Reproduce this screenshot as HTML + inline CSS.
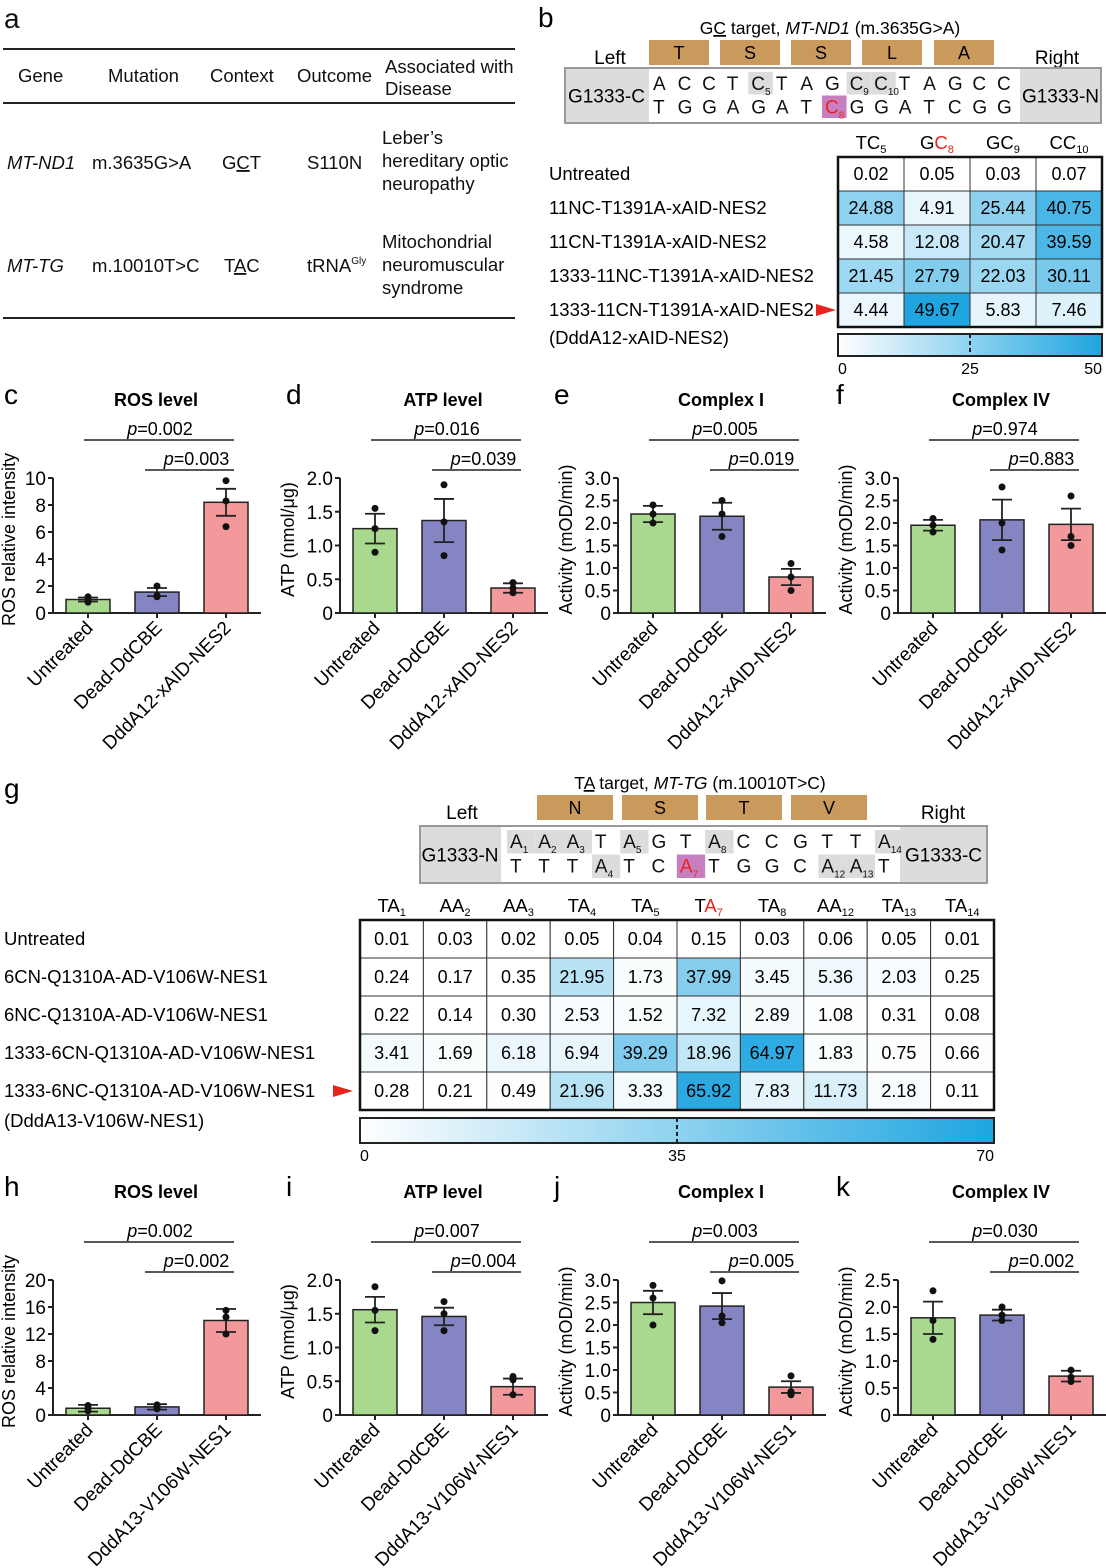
<!DOCTYPE html>
<html><head><meta charset="utf-8"><style>
body{margin:0;background:#fff}
svg{display:block;font-family:"Liberation Sans",Arial,sans-serif}
</style></head><body>
<svg id="fig" width="1106" height="1568" viewBox="0 0 1106 1568" xmlns="http://www.w3.org/2000/svg">
<g font-size="18.5" fill="#111">
<text x="4" y="28" font-size="28">a</text>
<line x1="3" y1="49" x2="515" y2="49" stroke="#222" stroke-width="2"/>
<line x1="3" y1="103" x2="515" y2="103" stroke="#222" stroke-width="2"/>
<line x1="3" y1="318" x2="515" y2="318" stroke="#222" stroke-width="2"/>
<text x="18" y="82">Gene</text><text x="108" y="82">Mutation</text><text x="210" y="82">Context</text><text x="297" y="82">Outcome</text>
<text x="385" y="73">Associated with</text><text x="385" y="95">Disease</text>
<text x="7" y="169" font-style="italic">MT-ND1</text><text x="92" y="169">m.3635G&gt;A</text><text x="222" y="169">G<tspan text-decoration="underline">C</tspan>T</text><text x="307" y="169">S110N</text>
<text x="382" y="144">Leber’s</text><text x="382" y="167">hereditary optic</text><text x="382" y="190">neuropathy</text>
<text x="7" y="272" font-style="italic">MT-TG</text><text x="92" y="272">m.10010T&gt;C</text><text x="224" y="272">T<tspan text-decoration="underline">A</tspan>C</text><text x="307" y="272">tRNA<tspan font-size="10" dy="-8">Gly</tspan></text>
<text x="382" y="248">Mitochondrial</text><text x="382" y="271">neuromuscular</text><text x="382" y="294">syndrome</text>
</g>
<g id="panelB"></g>
<g id="panelG"></g>
<g id="bars"></g>
</svg>
<script>
const NS='http://www.w3.org/2000/svg';
function mk(tag,attrs,parent,txt){const e=document.createElementNS(NS,tag);for(const k in attrs)e.setAttribute(k,attrs[k]);if(txt!==undefined)e.textContent=txt;parent.appendChild(e);return e;}

const bRows=['Untreated','11NC-T1391A-xAID-NES2','11CN-T1391A-xAID-NES2','1333-11NC-T1391A-xAID-NES2','1333-11CN-T1391A-xAID-NES2'];
const bCols=[['TC','5'],['G','C','8'],['GC','9'],['CC','10']];
const bVals=[[0.02,0.05,0.03,0.07],[24.88,4.91,25.44,40.75],[4.58,12.08,20.47,39.59],[21.45,27.79,22.03,30.11],[4.44,49.67,5.83,7.46]];
const bTicks=['0','25','50'];
const gRows=['Untreated','6CN-Q1310A-AD-V106W-NES1','6NC-Q1310A-AD-V106W-NES1','1333-6CN-Q1310A-AD-V106W-NES1','1333-6NC-Q1310A-AD-V106W-NES1'];
const gCols=[['TA','1'],['AA','2'],['AA','3'],['TA','4'],['TA','5'],['T','A','7'],['TA','8'],['AA','12'],['TA','13'],['TA','14']];
const gVals=[[0.01,0.03,0.02,0.05,0.04,0.15,0.03,0.06,0.05,0.01],[0.24,0.17,0.35,21.95,1.73,37.99,3.45,5.36,2.03,0.25],[0.22,0.14,0.30,2.53,1.52,7.32,2.89,1.08,0.31,0.08],[3.41,1.69,6.18,6.94,39.29,18.96,64.97,1.83,0.75,0.66],[0.28,0.21,0.49,21.96,3.33,65.92,7.83,11.73,2.18,0.11]];
const gTicks=['0','35','70'];

function col(v,max){const t=Math.max(0,Math.min(1,v/max));const r=Math.round(255+(30-255)*t),g=Math.round(255+(165-255)*t),b=Math.round(255+(224-255)*t);return `rgb(${r},${g},${b})`;}

function heatmap(p,o){
  const cw=(o.x1-o.x0)/o.cols.length, rh=(o.y1-o.y0)/o.rows.length;
  o.cols.forEach((c,i)=>{
    const t=mk('text',{x:o.x0+cw*(i+0.5),y:o.y0-8,'text-anchor':'middle','font-size':o.fs},p);
    
    if(c.length===2){mk('tspan',{},t,c[0]);mk('tspan',{'font-size':o.fs*0.6,dy:4},t,c[1]);}
    else{mk('tspan',{},t,c[0]);mk('tspan',{fill:'#e8231f'},t,c[1]);mk('tspan',{'font-size':o.fs*0.6,dy:4,fill:'#e8231f'},t,c[2]);}
  });
  o.rows.forEach((r,j)=>{
    const lt=mk('text',{x:o.lx,y:o.y0+rh*(j+0.5)+6,'font-size':o.fs},p,r);
    
    o.vals[j].forEach((v,i)=>{
      const rc=mk('rect',{x:o.x0+cw*i,y:o.y0+rh*j,width:cw,height:rh,fill:col(v,o.max),stroke:'#333','stroke-width':1},p);
      
      const vt=mk('text',{x:o.x0+cw*(i+0.5),y:o.y0+rh*(j+0.5)+6,'text-anchor':'middle','font-size':o.fs-0.5},p,v.toFixed(2));
      
    });
  });
  mk('rect',{x:o.x0,y:o.y0,width:o.x1-o.x0,height:o.y1-o.y0,fill:'none',stroke:'#111','stroke-width':2.5},p);
  const ay=o.y0+rh*4.5;
  const ar=mk('polygon',{points:`${o.ax},${ay-6} ${o.ax+20},${ay} ${o.ax},${ay+6}`,fill:'#e8231f'},p);
  
  const sub=mk('text',{x:o.lx,y:o.y1+17,'font-size':o.fs},p,o.sub);
  
  const gid='grad'+o.id;
  const defs=mk('defs',{},p);const lg=mk('linearGradient',{id:gid,x1:0,x2:1,y1:0,y2:0},defs);
  mk('stop',{offset:0,'stop-color':col(0,1)},lg);mk('stop',{offset:1,'stop-color':col(1,1)},lg);
  const cb=mk('rect',{x:o.x0,y:o.cy,width:o.x1-o.x0,height:o.ch,fill:`url(#${gid})`,stroke:'#222','stroke-width':2},p);
  
  const mx=(o.x0+o.x1)/2;
  mk('line',{x1:mx,y1:o.cy,x2:mx,y2:o.cy+o.ch,stroke:'#222','stroke-width':2,'stroke-dasharray':'4,3'},p);
  o.ticks.forEach((t,i)=>{const tx=mk('text',{x:o.x0+(o.x1-o.x0)*i/2,y:o.cy+o.ch+18,'text-anchor':i===0?'start':(i===2?'end':'middle'),'font-size':16},p,t);
    });
}

function sequence(p,o){
  mk('text',{x:o.tx,y:o.ty,'text-anchor':'middle','font-size':17.5},p).innerHTML=o.title;
  o.aa.forEach((a,i)=>{
    const r=mk('rect',{x:o.aax[i],y:o.aay,width:o.aaw,height:25,fill:'#c99a5c'},p);
    
    mk('text',{x:o.aax[i]+o.aaw/2,y:o.aay+19,'text-anchor':'middle','font-size':18},p,a);
  });
  mk('text',{x:o.lx,y:o.aay+24,'text-anchor':'middle','font-size':19},p,'Left');
  mk('text',{x:o.rx,y:o.aay+24,'text-anchor':'middle','font-size':19},p,'Right');
  const bx=mk('rect',{x:o.x0,y:o.y0,width:o.x1-o.x0,height:o.h,fill:'#fff',stroke:'#999','stroke-width':2},p);
  
  mk('rect',{x:o.x0+1,y:o.y0+1,width:o.gl-o.x0,height:o.h-2,fill:'#dcdcdc'},p);
  mk('rect',{x:o.gr,y:o.y0+1,width:o.x1-o.gr-1,height:o.h-2,fill:'#dcdcdc'},p);
  mk('text',{x:(o.x0+o.gl)/2,y:o.y0+o.h/2+7,'text-anchor':'middle','font-size':19},p,o.ln);
  mk('text',{x:(o.gr+o.x1)/2,y:o.y0+o.h/2+7,'text-anchor':'middle','font-size':19},p,o.rn);
  const step=(o.s1-o.s0)/(o.top.length-1);
  [o.top,o.bot].forEach((row,ri)=>{
    row.forEach((s,i)=>{
      const cx=o.s0+step*i, y=o.y0+4+ri*(o.h/2-4);
      const L=s[0],sub=s[1]||'',hl=s[2]||0;
      if(hl){mk('rect',{x:cx-11,y:y,width:sub?step:22,height:o.h/2-5,fill:hl===2?'#c77fbf':'#dcdcdc'},p);}
      const t=mk('text',{x:cx-8,y:y+18,'font-size':19,fill:hl===2?'#e8231f':'#111'},p);
      mk('tspan',{},t,L);if(sub)mk('tspan',{'font-size':10,dy:5},t,sub);
    });
  });
}

const pb=document.getElementById('panelB');
mk('text',{x:538,y:27,'font-size':28},pb,'b');
sequence(pb,{title:'G<tspan text-decoration="underline">C</tspan> target, <tspan font-style="italic">MT-ND1</tspan> (m.3635G&gt;A)',tx:830,ty:34,
 aa:['T','S','S','L','A'],aax:[649,720,791,862,934],aaw:60,aay:40,lx:610,rx:1057,x0:565,x1:1101,y0:68,h:55,gl:648,gr:1020,ln:'G1333-C',rn:'G1333-N',s0:661,s1:1005,
 top:[['A'],['C'],['C'],['T'],['C','5',1],['T'],['A'],['G'],['C','9',1],['C','10',1],['T'],['A'],['G'],['C'],['C']],
 bot:[['T'],['G'],['G'],['A'],['G'],['A'],['T'],['C','8',2],['G'],['G'],['A'],['T'],['C'],['G'],['G']]});
heatmap(pb,{id:'b',rows:bRows,cols:bCols,vals:bVals,max:50,x0:838,x1:1102,y0:157,y1:327,lx:549,fs:18.5,ax:816,sub:'(DddA12-xAID-NES2)',cy:334,ch:22,ticks:bTicks});

const pg=document.getElementById('panelG');
mk('text',{x:4,y:798,'font-size':28},pg,'g');
sequence(pg,{title:'T<tspan text-decoration="underline">A</tspan> target, <tspan font-style="italic">MT-TG</tspan> (m.10010T&gt;C)',tx:700,ty:789,
 aa:['N','S','T','V'],aax:[537,622,706,791],aaw:76,aay:795,lx:462,rx:943,x0:420,x1:987,y0:826,h:57,gl:500,gr:900,ln:'G1333-N',rn:'G1333-C',s0:518,s1:886,
 top:[['A','1',1],['A','2',1],['A','3',1],['T'],['A','5',1],['G'],['T'],['A','8',1],['C'],['C'],['G'],['T'],['T'],['A','14',1]],
 bot:[['T'],['T'],['T'],['A','4',1],['T'],['C'],['A','7',2],['T'],['G'],['G'],['C'],['A','12',1],['A','13',1],['T']]});
heatmap(pg,{id:'g',rows:gRows,cols:gCols,vals:gVals,max:70,x0:360,x1:994,y0:920,y1:1110,lx:4,fs:18.5,ax:333,sub:'(DddA13-V106W-NES1)',cy:1118,ch:25,ticks:gTicks});

const cMeans=[1.0,1.55,8.2], cErr=[0.15,0.3,1.0], cPts=[[0.8,1.0,1.2],[1.2,1.3,2.0],[6.4,8.3,9.8]];
const dMeans=[1.25,1.37,0.37], dErr=[0.22,0.32,0.07], dPts=[[0.9,1.25,1.55],[0.85,1.35,1.9],[0.3,0.37,0.45]];
const eMeans=[2.2,2.15,0.8], eErr=[0.18,0.3,0.18], ePts=[[2.0,2.2,2.4],[1.7,2.2,2.5],[0.5,0.8,1.1]];
const fMeans=[1.95,2.07,1.97], fErr=[0.12,0.45,0.35], fPts=[[1.8,1.95,2.1],[1.4,2.0,2.8],[1.5,1.7,2.6]];
const hMeans=[1.0,1.2,14.0], hErr=[0.5,0.4,1.7], hPts=[[0.6,1.0,1.4],[0.9,1.1,1.5],[12,14.5,15.5]];
const iMeans=[1.56,1.46,0.42], iErr=[0.19,0.13,0.12], iPts=[[1.25,1.55,1.9],[1.25,1.5,1.68],[0.3,0.52,0.57]];
const jMeans=[2.5,2.42,0.62], jErr=[0.26,0.29,0.13], jPts=[[2.0,2.6,2.88],[2.05,2.2,2.98],[0.45,0.52,0.87]];
const kMeans=[1.8,1.85,0.72], kErr=[0.3,0.1,0.1], kPts=[[1.4,1.75,2.3],[1.75,1.85,2.0],[0.62,0.7,0.83]];
const groups1=['Untreated','Dead-DdCBE','DddA12-xAID-NES2'];
const groups2=['Untreated','Dead-DdCBE','DddA13-V106W-NES1'];
const ticks10=['0','2','4','6','8','10'], ticks20=['0','4','8','12','16','20'];
const ticks2=['0','0.5','1.0','1.5','2.0'], ticks3=['0','0.5','1.0','1.5','2.0','2.5','3.0'], ticks25=['0','0.5','1.0','1.5','2.0','2.5'];
const pvals={c:['0.002','0.003'],d:['0.016','0.039'],e:['0.005','0.019'],f:['0.974','0.883'],h:['0.002','0.002'],i:['0.007','0.004'],j:['0.003','0.005'],k:['0.030','0.002']};

const colors=['#a9d98e','#8585c4','#f3999c'];
const bp=document.getElementById('bars');
function barChart(o){
  const g=mk('g',{},bp);
  
  const y0=o.yb, y1=o.yt, ymax=parseFloat(o.ticks[o.ticks.length-1]);
  const Y=v=>y0-(v/ymax)*(y0-y1);
  const X=i=>o.ax+35+i*69;
  mk('text',{x:o.lblx,y:o.ty-2,'font-size':28},g,o.id);
  mk('text',{x:o.ax+103,y:o.ty,'text-anchor':'middle','font-size':18,'font-weight':'bold'},g,o.title);
  mk('line',{x1:o.ax,y1:y1,x2:o.ax,y2:y0,stroke:'#222','stroke-width':2},g);
  mk('line',{x1:o.ax,y1:y0,x2:o.ax+208,y2:y0,stroke:'#222','stroke-width':2},g);
  o.ticks.forEach(t=>{const yy=Y(parseFloat(t));
    mk('line',{x1:o.ax-5,y1:yy,x2:o.ax,y2:yy,stroke:'#222','stroke-width':2},g);
    const tl=mk('text',{x:o.ax-7,y:yy+7,'text-anchor':'end','font-size':19},g,t);
    });
  const yl=mk('text',{x:0,y:0,'text-anchor':'middle','font-size':18,transform:`translate(${o.ax-o.yo},${(y0+y1)/2-6}) rotate(-90)`},g,o.ylab);
  
  o.means.forEach((m,i)=>{
    const cx=X(i);
    const r=mk('rect',{x:cx-22,y:Y(m),width:44,height:y0-Y(m),fill:colors[i],stroke:'#222','stroke-width':1.5},g);
    
    mk('line',{x1:cx,y1:y0,x2:cx,y2:y0+5,stroke:'#222','stroke-width':2},g);
    const e=o.err[i];
    mk('line',{x1:cx,y1:Y(m+e),x2:cx,y2:Y(m-e),stroke:'#222','stroke-width':1.8},g);
    mk('line',{x1:cx-10,y1:Y(m+e),x2:cx+10,y2:Y(m+e),stroke:'#222','stroke-width':1.8},g);
    mk('line',{x1:cx-10,y1:Y(m-e),x2:cx+10,y2:Y(m-e),stroke:'#222','stroke-width':1.8},g);
    o.pts[i].forEach(v=>{const c=mk('circle',{cx:cx,cy:Y(v),r:3.5,fill:'#111'},g);
      });
    const xl=mk('text',{x:0,y:0,'text-anchor':'end','font-size':19,transform:`translate(${cx+6},${y0+16}) rotate(-45)`},g,o.groups[i]);
    
  });
  const p=pvals[o.id];
  const s1=y1-38, s2=y1-8;
  mk('line',{x1:X(0)-4,y1:s1,x2:X(2)+8,y2:s1,stroke:'#222','stroke-width':1.5},g);
  mk('line',{x1:X(1)-12,y1:s2,x2:X(2)+8,y2:s2,stroke:'#222','stroke-width':1.5},g);
  const t1=mk('text',{x:(X(0)+X(2))/2+3,y:s1-5,'text-anchor':'middle','font-size':18},g);
  mk('tspan',{'font-style':'italic'},t1,'p');mk('tspan',{},t1,'='+p[0]);
  const t2=mk('text',{x:(X(1)+X(2))/2+5,y:s2-5,'text-anchor':'middle','font-size':18},g);
  mk('tspan',{'font-style':'italic'},t2,'p');mk('tspan',{},t2,'='+p[1]);
}
const r1={yb:613,yt:478,ty:406}, r2={yb:1415,yt:1280,ty:1198};
barChart({id:'c',ax:53,lblx:4,...r1,title:'ROS level',ylab:'ROS relative intensity',yo:38,ticks:ticks10,means:cMeans,err:cErr,pts:cPts,groups:groups1});
barChart({id:'d',ax:340,lblx:286,...r1,title:'ATP level',ylab:'ATP (nmol/μg)',yo:46,ticks:ticks2,means:dMeans,err:dErr,pts:dPts,groups:groups1});
barChart({id:'e',ax:618,lblx:554,...r1,title:'Complex I',ylab:'Activity (mOD/min)',yo:46,ticks:ticks3,means:eMeans,err:eErr,pts:ePts,groups:groups1});
barChart({id:'f',ax:898,lblx:836,...r1,title:'Complex IV',ylab:'Activity (mOD/min)',yo:46,ticks:ticks3,means:fMeans,err:fErr,pts:fPts,groups:groups1});
barChart({id:'h',ax:53,lblx:4,...r2,title:'ROS level',ylab:'ROS relative intensity',yo:38,ticks:ticks20,means:hMeans,err:hErr,pts:hPts,groups:groups2});
barChart({id:'i',ax:340,lblx:286,...r2,title:'ATP level',ylab:'ATP (nmol/μg)',yo:46,ticks:ticks2,means:iMeans,err:iErr,pts:iPts,groups:groups2});
barChart({id:'j',ax:618,lblx:554,...r2,title:'Complex I',ylab:'Activity (mOD/min)',yo:46,ticks:ticks3,means:jMeans,err:jErr,pts:jPts,groups:groups2});
barChart({id:'k',ax:898,lblx:836,...r2,title:'Complex IV',ylab:'Activity (mOD/min)',yo:46,ticks:ticks25,means:kMeans,err:kErr,pts:kPts,groups:groups2});
</script>
</body></html>
